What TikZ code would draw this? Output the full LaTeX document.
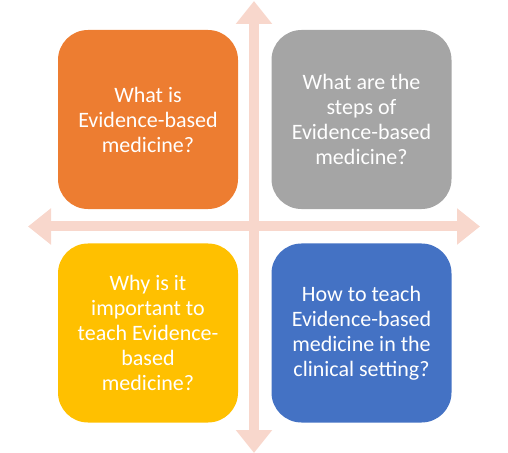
\documentclass[tikz,border=0pt]{standalone}
\usepackage{fontspec}
\setmainfont{Carlito}
\usepackage{xcolor}
\usepackage{tikz}
\usetikzlibrary{arrows.meta}
\definecolor{orangebox}{HTML}{ED7D31}
\definecolor{graybox}{HTML}{A5A5A5}
\definecolor{yellowbox}{HTML}{FFC000}
\definecolor{bluebox}{HTML}{4472C4}
\definecolor{axis}{HTML}{F8D7CC}
\tikzset{
  quad/.style={rounded corners=30bp, minimum width=180bp, minimum height=179bp,
    inner sep=0pt, text=white, align=center, font=\fontsize{22bp}{25bp}\selectfont},
  cross/.style={draw=axis, line width=10bp,
    {Triangle[length=23bp,width=35bp]}-{Triangle[length=23bp,width=35bp]}},
}

\begin{document}
\begin{tikzpicture}[x=1bp,y=-1bp]
  \useasboundingbox (0,0) rectangle (508,453);
  \coordinate (top) at (254,1);
  \coordinate (bottom) at (254,453);
  \coordinate (left) at (28,226.5);
  \coordinate (right) at (480,226.5);

  \draw[cross] (top) -- (bottom);
  \draw[cross] (left) -- (right);

  \node[quad,fill=orangebox] (whatis) at (148,119.5) {What is\\Evidence-based\\medicine?};
  \node[quad,fill=graybox] (steps) at (361.5,119.5) {What are the\\steps of\\Evidence-based\\medicine?};
  \node[quad,fill=yellowbox] (why) at (148,333) {Why is it\\important to\\teach Evidence-\\based\\medicine?};
  \node[quad,fill=bluebox] (howto) at (361.5,333) {How to teach\\Evidence-based\\medicine in the\\clinical setting?};
\end{tikzpicture}
\end{document}
